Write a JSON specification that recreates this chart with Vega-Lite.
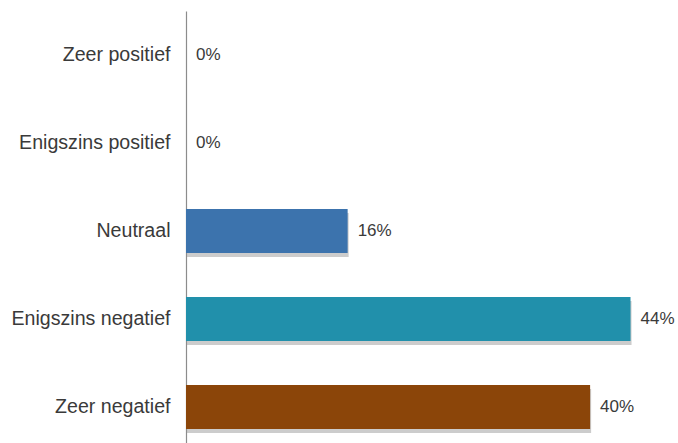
{
  "$schema": "https://vega.github.io/schema/vega-lite/v6.json",
  "width": 492,
  "height": 440,
  "autosize": {"type": "none"},
  "padding": {"left": 186, "top": 11, "right": 0, "bottom": 0},
  "background": "white",
  "config": {"view": {"stroke": null}, "font": "Liberation Sans"},
  "data": {
    "values": [
      {"cat": "Zeer positief", "pct": 0, "label": "0%"},
      {"cat": "Enigszins positief", "pct": 0, "label": "0%"},
      {"cat": "Neutraal", "pct": 16, "label": "16%"},
      {"cat": "Enigszins negatief", "pct": 44, "label": "44%"},
      {"cat": "Zeer negatief", "pct": 40, "label": "40%"}
    ]
  },
  "encoding": {
    "y": {
      "field": "cat", "type": "nominal", "sort": null,
      "scale": {"paddingInner": 0.5, "paddingOuter": 0.25},
      "axis": {
        "title": null, "ticks": false, "domainColor": "#8c8c8c", "domainWidth": 1.2,
        "labelFontSize": 19.6, "labelColor": "#3a3a3a", "labelPadding": 16, "labelFont": "Liberation Sans"
      }
    },
    "x": {
      "field": "pct", "type": "quantitative",
      "scale": {"domain": [0, 48.7], "nice": false},
      "axis": null
    }
  },
  "layer": [
    {
      "mark": {"type": "bar", "color": "#9a9a9a", "opacity": 0.5, "xOffset": 1, "yOffset": 4}
    },
    {
      "mark": {"type": "bar"},
      "encoding": {
        "color": {
          "field": "cat", "type": "nominal", "legend": null,
          "scale": {
            "domain": ["Zeer positief", "Enigszins positief", "Neutraal", "Enigszins negatief", "Zeer negatief"],
            "range": ["#5b8fc8", "#4aa6bd", "#3c73ad", "#2190ab", "#8b4509"]
          }
        }
      }
    },
    {
      "mark": {"type": "text", "align": "left", "dx": 10, "fontSize": 17, "color": "#3a3a3a", "font": "Liberation Sans"},
      "encoding": {"text": {"field": "label"}}
    }
  ]
}
